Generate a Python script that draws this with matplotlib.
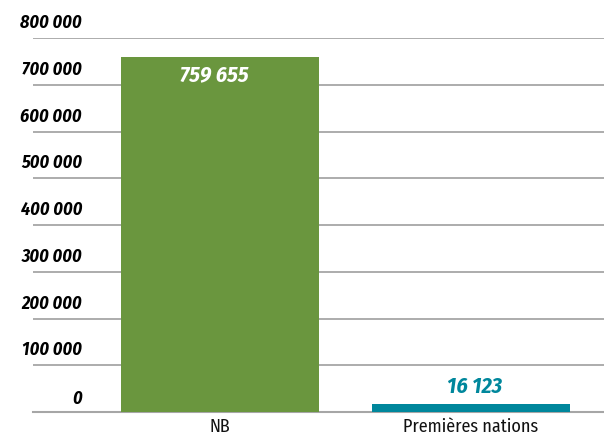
import matplotlib
matplotlib.use("Agg")
import matplotlib.pyplot as plt
import matplotlib.transforms as mtransforms
from matplotlib import font_manager

# ── data ──────────────────────────────────────────────────────────────────────
categories = ["NB", "Premières nations"]
values = [759655, 16123]
value_labels = ["759 655", "16 123"]
y_ticks = [0, 100000, 200000, 300000, 400000, 500000, 600000, 700000, 800000]
y_tick_labels = ["0", "100 000", "200 000", "300 000", "400 000",
                 "500 000", "600 000", "700 000", "800 000"]

GREEN = "#6a963e"
TEAL = "#00879c"
GRID = "#a6a6a6"

# pick a condensed family that has a bold italic face
CANDIDATES = ["Fira Sans Condensed", "Roboto Condensed", "Asap Condensed",
              "Barlow Semi Condensed", "Open Sans Condensed", "Archivo Narrow",
              "Liberation Sans Narrow"]
faces = {(f.name, f.style, f.weight) for f in font_manager.fontManager.ttflist}
FONT = "DejaVu Sans"
for c in CANDIDATES:
    if any(n == c and s == "italic" and int(w) >= 700 for n, s, w in faces):
        FONT = c
        break
plt.rcParams["font.family"] = [FONT, "DejaVu Sans"]

fig = plt.figure(figsize=(6.04, 4.40), dpi=100)
ax = fig.add_axes([33 / 604, 28 / 440, 571 / 604, 374 / 440])

x = range(len(categories))
ax.bar(x, values, width=0.79, color=[GREEN, TEAL], zorder=3)
ax.set_xlim(-0.745, 1.53)
ax.set_ylim(0, 800000)

for s in ["top", "right", "left"]:
    ax.spines[s].set_visible(False)
ax.spines["bottom"].set_color(GRID)
ax.spines["bottom"].set_linewidth(1.5)
ax.set_yticks([])
ax.set_xticks(list(x))
ax.set_xticklabels(categories, fontsize=13, color="#111111")
ax.tick_params(axis="x", length=0, pad=4)

for v in y_ticks[1:]:
    ax.axhline(v, color=GRID, linewidth=1.3, zorder=1)

# y labels sit above the grid lines
for v, lab in zip(y_ticks, y_tick_labels):
    tr = mtransforms.offset_copy(ax.get_yaxis_transform(), fig=fig, x=0,
                                 y=15 if v else 13, units="dots")
    ax.text(0.086, v, lab, transform=tr, ha="right", va="center", fontsize=13,
            fontweight="bold", fontstyle="italic", color="black")

# value labels
ax.annotate(value_labels[0], (0, values[0]), xytext=(-6, -18), textcoords="offset pixels",
            ha="center", va="center", fontsize=16, fontweight="bold",
            fontstyle="italic", color="white", zorder=4)
ax.annotate(value_labels[1], (1, values[1]), xytext=(4, 18), textcoords="offset pixels",
            ha="center", va="center", fontsize=16, fontweight="bold",
            fontstyle="italic", color=TEAL, zorder=4)

fig.savefig("out.png", dpi=100)
